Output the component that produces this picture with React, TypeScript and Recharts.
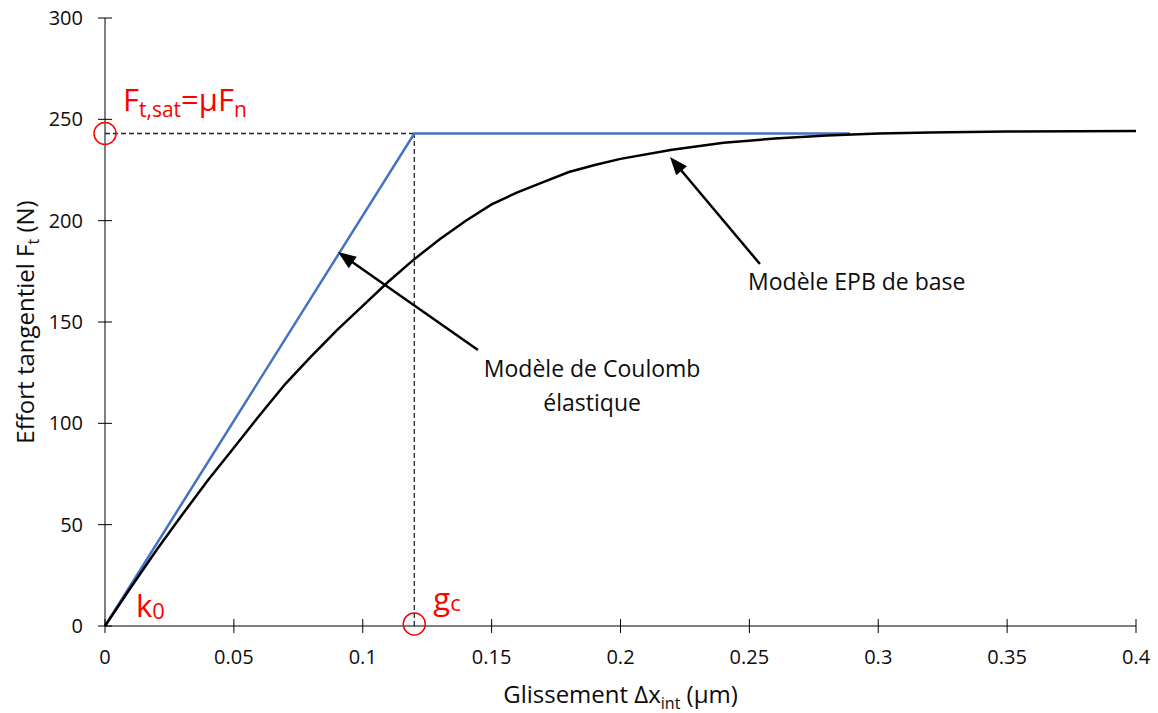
import React from 'react';
import { LineChart, Line, XAxis, YAxis, ReferenceLine, ReferenceDot, Label } from 'recharts';

// EPB de base (black curve)
const epbSlip = [0, 0.01, 0.02, 0.03, 0.04, 0.05, 0.06, 0.07, 0.08, 0.09, 0.1, 0.11, 0.12, 0.13, 0.14, 0.15, 0.16, 0.17, 0.18, 0.19, 0.2, 0.22, 0.24, 0.26, 0.28, 0.3, 0.32, 0.35, 0.4];
const epbForce = [0, 19, 37.5, 55, 72, 88, 104, 119.5, 133, 146, 158, 170, 181, 191, 200, 208, 214, 219, 224, 227.5, 230.5, 235, 238.5, 240.5, 242, 243, 243.5, 244, 244.2];

// Coulomb élastique (blue)
const coulombSlip = [0, 0.12, 0.289];
const coulombForce = [0, 243, 243];

const xTicks = [0, 0.05, 0.1, 0.15, 0.2, 0.25, 0.3, 0.35, 0.4];
const yTicks = [0, 50, 100, 150, 200, 250, 300];

const fSat = 243;
const gC = 0.12;

const FONT = '"Open Sans", sans-serif';
const RED = '#FF0000';
const INK = '#0d0d0d';

const epbData = epbSlip.map((x, i) => ({ x, f: epbForce[i] }));
const coulombData = coulombSlip.map((x, i) => ({ x, f: coulombForce[i] }));

const YTick = ({ x, y, payload }: any) => (
  <g>
    <line x1={x + 14} x2={x + 28} y1={y} y2={y} stroke="#000" strokeWidth={1} />
    <text x={x - 1} y={y} dy="0.35em" textAnchor="end" fontSize={20} fontFamily={FONT} fill={INK}>
      {payload.value}
    </text>
  </g>
);

const XTick = ({ x, y, payload }: any) => (
  <g>
    <line x1={x} x2={x} y1={y - 31} y2={y - 17} stroke="#000" strokeWidth={1} />
    <text x={x} y={y} dy="0.71em" textAnchor="middle" fontSize={20} fontFamily={FONT} fill={INK}>
      {payload.value}
    </text>
  </g>
);

const Arrow = ({ x1, y1, x2, y2 }: any) => {
  const dx = x2 - x1;
  const dy = y2 - y1;
  const len = Math.hypot(dx, dy);
  const ux = dx / len;
  const uy = dy / len;
  const hl = 18;
  const hw = 7;
  const bx = x2 - ux * hl;
  const by = y2 - uy * hl;
  return (
    <g>
      <line x1={x1} y1={y1} x2={bx + ux * 2} y2={by + uy * 2} stroke="#000" strokeWidth={2.5} />
      <polygon
        points={`${x2},${y2} ${bx - uy * hw},${by + ux * hw} ${bx + uy * hw},${by - ux * hw}`}
        fill="#000"
      />
    </g>
  );
};

const textShape = (lines: string[], anchor: 'start' | 'middle') => ({ cx, cy }: any) => (
  <text x={cx} y={cy} textAnchor={anchor} fontSize={23} fontFamily={FONT} fill={INK}>
    {lines.map((l, i) => (
      <tspan key={i} x={cx} dy={i === 0 ? 0 : 34}>
        {l}
      </tspan>
    ))}
  </text>
);

const satLabel = ({ cx, cy }: any) => (
  <text x={cx + 18} y={cy - 23} fontFamily={FONT} fill={RED} fontSize={31}>
    F
    <tspan fontSize={21} dy={6}>t,sat</tspan>
    <tspan dy={-6}>=μF</tspan>
    <tspan fontSize={21} dy={6}>n</tspan>
  </text>
);

const k0Label = ({ cx, cy }: any) => (
  <text x={cx + 31} y={cy - 9} fontFamily={FONT} fill={RED} fontSize={31}>
    k
    <tspan fontSize={22} dy={2}>0</tspan>
  </text>
);

const gcLabel = ({ cx, cy }: any) => (
  <text x={cx + 19} y={cy - 16} fontFamily={FONT} fill={RED} fontSize={31}>
    g
    <tspan fontSize={22} dy={1}>c</tspan>
  </text>
);

const YTitle = ({ viewBox }: any) => {
  const cx = viewBox.x - 11;
  const cy = viewBox.y + viewBox.height / 2;
  return (
    <text x={cx} y={cy} transform={`rotate(-90 ${cx} ${cy})`} textAnchor="middle" fontSize={24} fontFamily={FONT} fill={INK}>
      Effort tangentiel F<tspan fontSize={16} dy={5}>t</tspan>
      <tspan dy={-5}> (N)</tspan>
    </text>
  );
};

const XTitle = ({ viewBox }: any) => {
  const cx = viewBox.x + viewBox.width / 2;
  const cy = viewBox.y + 77;
  return (
    <text x={cx} y={cy} textAnchor="middle" fontSize={24} fontFamily={FONT} fill={INK}>
      Glissement Δx<tspan fontSize={16} dy={6}>int</tspan>
      <tspan dy={-6}> (µm)</tspan>
    </text>
  );
};

export default function App() {
  return (
    <div style={{ position: 'absolute', left: 0, top: 0, width: 1158, height: 713, background: '#fff', fontFamily: FONT }}>
      <LineChart width={1158} height={713} margin={{ top: 18, right: 22, bottom: 27, left: 45 }}>
        <XAxis
          type="number"
          dataKey="x"
          domain={[0, 0.4]}
          ticks={xTicks}
          interval={0}
          height={60}
          tickSize={7}
          tickMargin={17}
          tickLine={false}
          tick={<XTick />}
          axisLine={{ stroke: '#000', strokeWidth: 1 }}
        >
          <Label content={<XTitle />} />
        </XAxis>
        <YAxis
          type="number"
          domain={[0, 300]}
          ticks={yTicks}
          interval={0}
          width={60}
          tickSize={7}
          tickMargin={14}
          tickLine={false}
          tick={<YTick />}
          axisLine={{ stroke: '#000', strokeWidth: 1 }}
        >
          <Label content={<YTitle />} />
        </YAxis>

        <ReferenceLine segment={[{ x: 0, y: fSat }, { x: gC, y: fSat }]} stroke="#262626" strokeWidth={1.3} strokeDasharray="5 3" />
        <ReferenceLine segment={[{ x: gC, y: 0 }, { x: gC, y: fSat }]} stroke="#262626" strokeWidth={1.3} strokeDasharray="5 3" />

        <Line data={coulombData} dataKey="f" type="linear" stroke="#4472C4" strokeWidth={2.5} dot={false} isAnimationActive={false} />
        <Line data={epbData} dataKey="f" type="linear" stroke="#000" strokeWidth={2.5} dot={false} isAnimationActive={false} />

        <ReferenceLine segment={[{ x: 0.1447, y: 136.2 }, { x: 0.0904, y: 184.5 }]} shape={<Arrow />} />
        <ReferenceLine segment={[{ x: 0.2541, y: 178.6 }, { x: 0.2192, y: 231.4 }]} shape={<Arrow />} />

        <ReferenceDot x={0} y={fSat} r={11} fill="none" stroke={RED} strokeWidth={1.5} />
        <ReferenceDot x={gC} y={1} r={11} fill="none" stroke={RED} strokeWidth={1.5} />

        <ReferenceDot x={0} y={fSat} shape={satLabel} />
        <ReferenceDot x={0} y={0} shape={k0Label} />
        <ReferenceDot x={gC} y={0} shape={gcLabel} />
        <ReferenceDot x={0.189} y={123} shape={textShape(['Modèle de Coulomb', 'élastique'], 'middle')} />
        <ReferenceDot x={0.2495} y={165.8} shape={textShape(['Modèle EPB de base'], 'start')} />
      </LineChart>
    </div>
  );
}
